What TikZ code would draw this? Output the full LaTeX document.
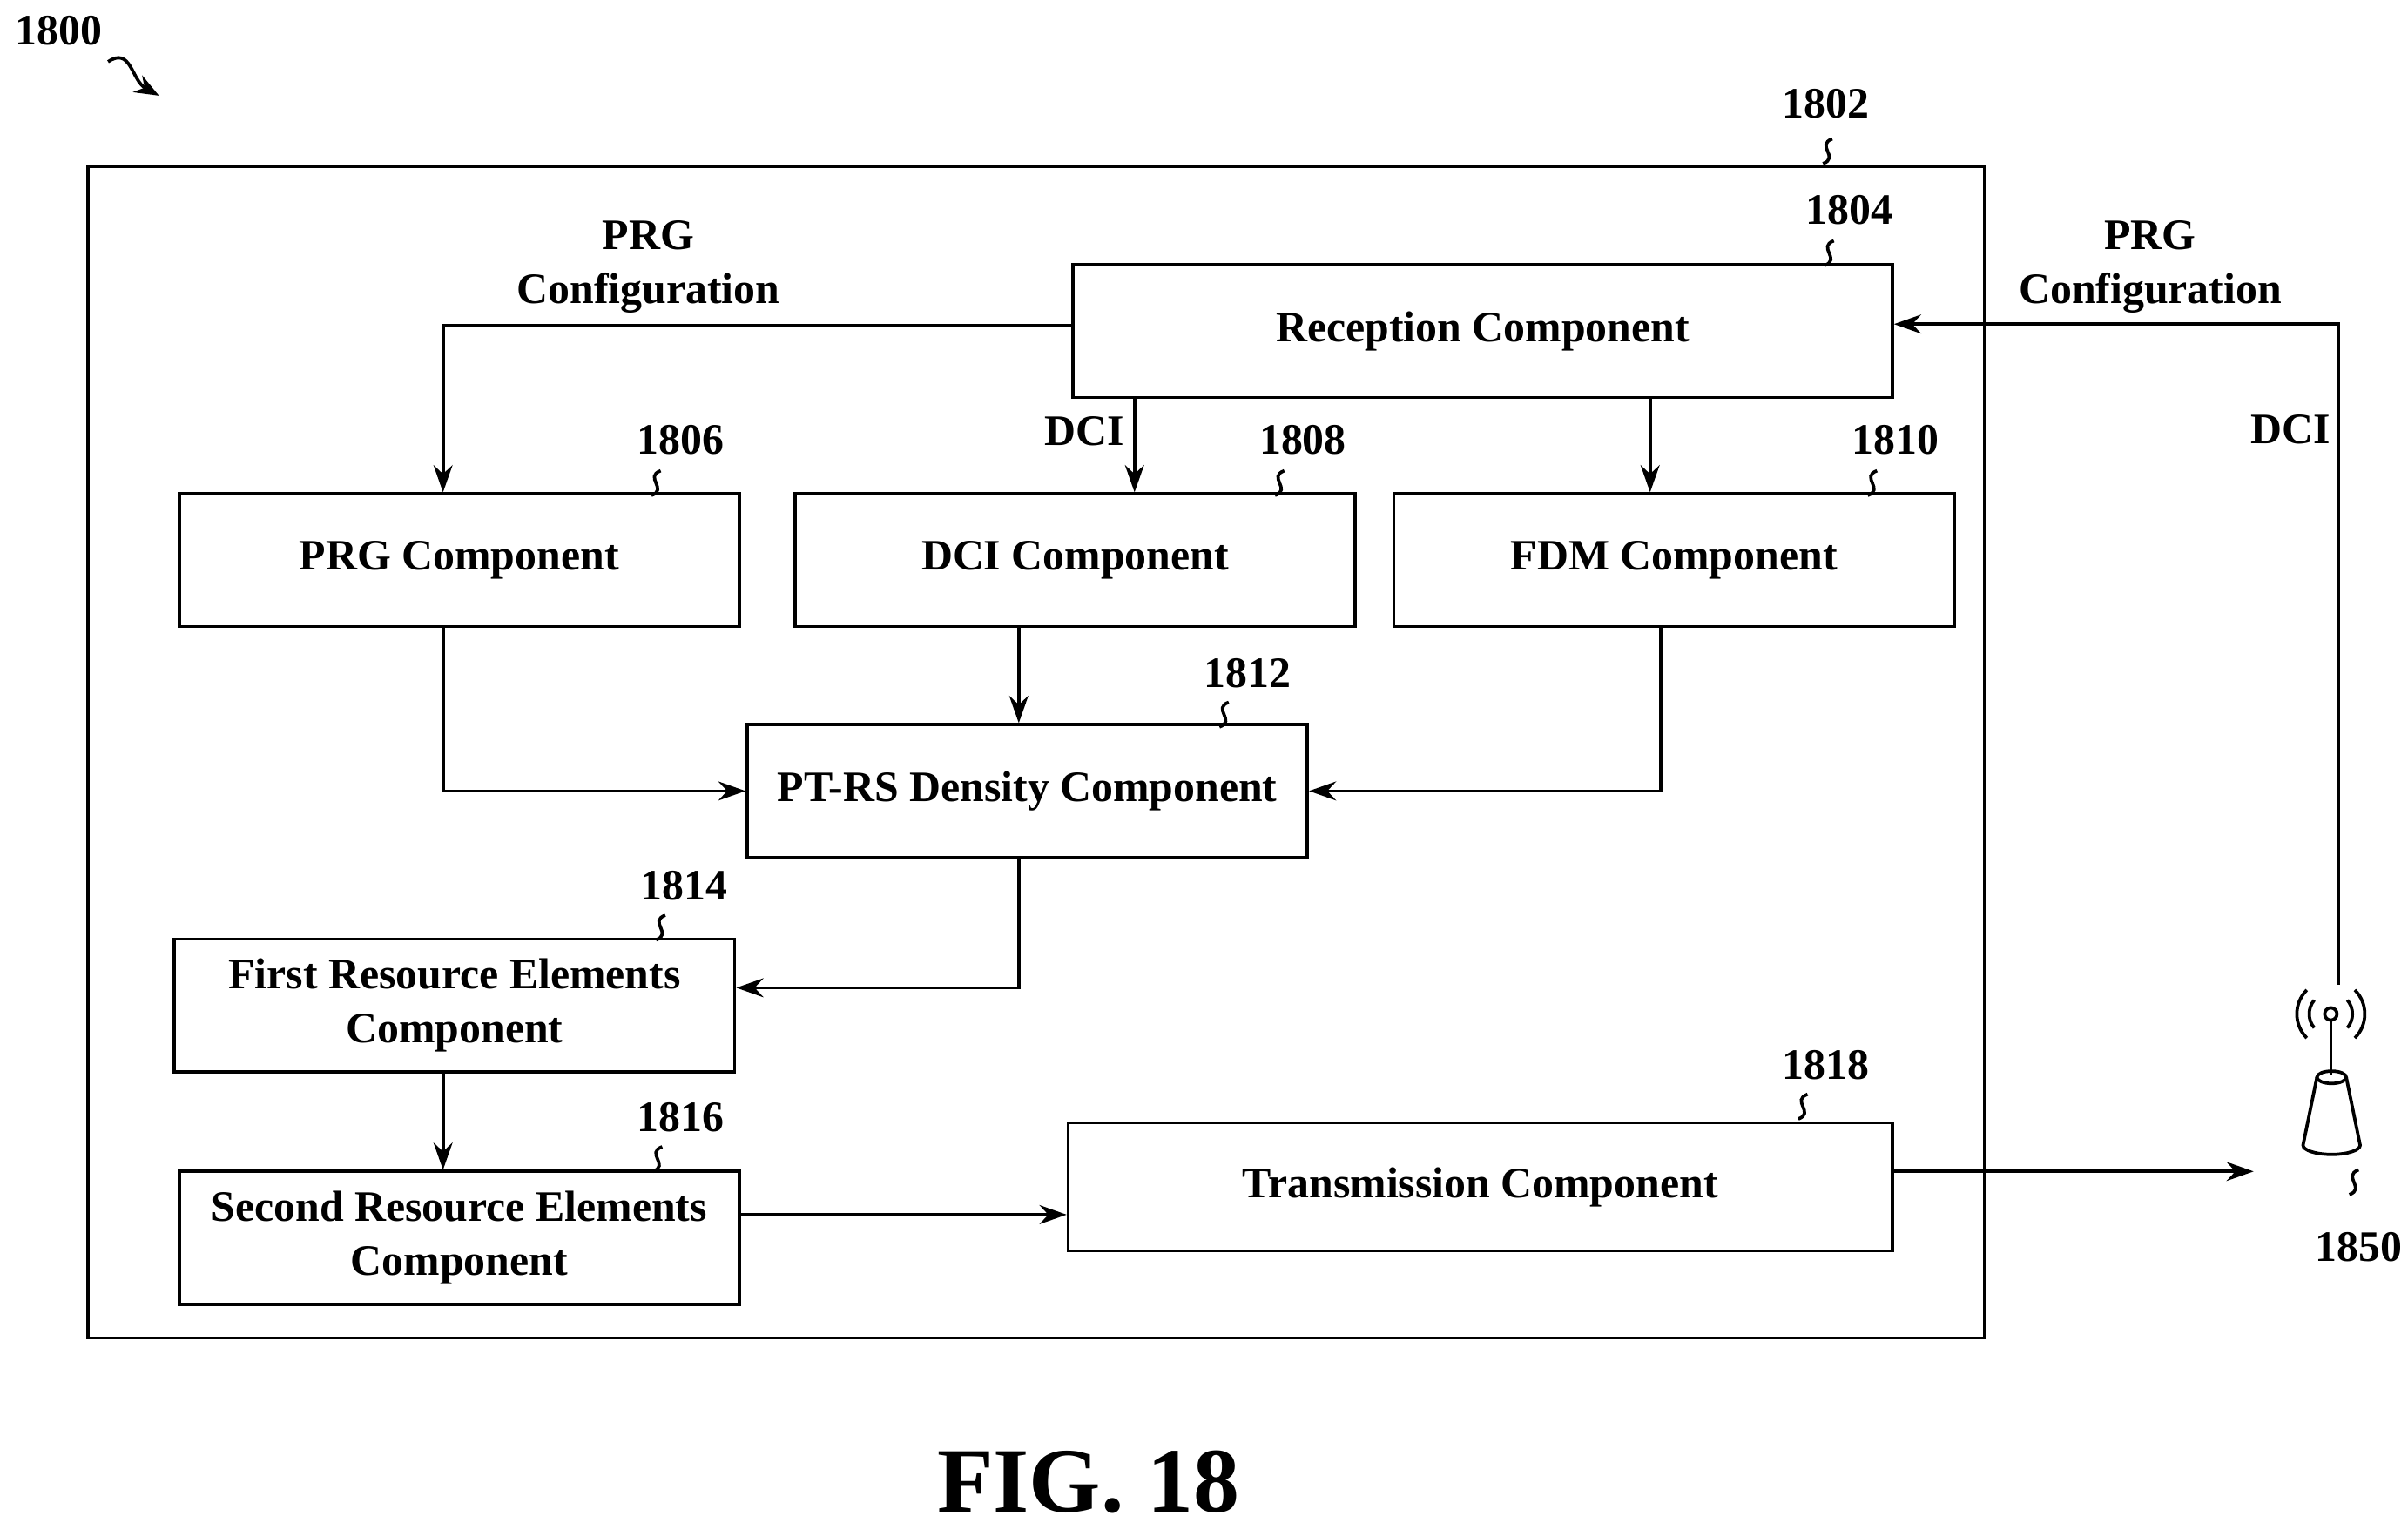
\documentclass[tikz,border=0pt]{standalone}
\usepackage{fontspec}
\setmainfont{Liberation Serif}
\usetikzlibrary{positioning,arrows.meta}
\tikzset{
  comp/.style={draw, line width=1.2pt, minimum width=7.26cm, minimum height=1.72cm, align=center, font=\fontsize{16}{20}\selectfont\bfseries},
  lbl/.style={align=center, font=\fontsize{16}{20}\selectfont\bfseries},
  ref/.style={font=\fontsize{16}{20}\selectfont\bfseries},
  flow/.style={-{Stealth[length=10pt,width=7pt]}, line width=1.2pt},
  squig/.style={line width=1.2pt}
}
\newcommand{\tagsq}[1]{\draw[squig] (#1) .. controls +(-11,4) and +(11,-4) .. ++(-6,16);}
\begin{document}
\begin{tikzpicture}[x=0.02cm, y=-0.02cm]
  \useasboundingbox (0,0) rectangle (1560,995);
  % outer frame
  \node[draw, line width=1.2pt, minimum width=24.58cm, minimum height=15.18cm] (frame) at (671.5,487.5) {};

  % components
  \node[comp, minimum width=10.62cm] (rx) at (960.5,214.5) {Reception Component};
  \node[comp] (prg) at (297.5,363) {PRG Component};
  \node[comp] (dci) at (696.5,363) {DCI Component};
  \node[comp] (fdm) at (1084.5,363) {FDM Component};
  \node[comp] (ptrs) at (665.5,512.5) {PT-RS Density Component};
  \node[comp] (fre) at (294.5,651.5) {First Resource Elements\\Component};
  \node[comp] (sre) at (297.5,802) {Second Resource Elements\\Component};
  \node[comp, minimum width=10.68cm, minimum height=1.66cm] (tx) at (959,769) {Transmission Component};

  % reference numbers
  \node[ref] (n1800) at (38,20) {1800};
  \node[ref] (n1802) at (1183,67) {1802};
  \node[ref] (n1804) at (1198,136) {1804};
  \node[ref] (n1806) at (441,285) {1806};
  \node[ref] (n1808) at (844,285) {1808};
  \node[ref] (n1810) at (1228,285) {1810};
  \node[ref] (n1812) at (808,436) {1812};
  \node[ref] (n1814) at (443,574) {1814};
  \node[ref] (n1816) at (441,724) {1816};
  \node[ref] (n1818) at (1183,690) {1818};
  \node[ref] (n1850) at (1528,808) {1850};

  \draw[squig, -{Stealth[length=9pt,width=7pt]}] (70,40) .. controls (85,30) and (85,52) .. (103,62);
  \tagsq{1187,90}
  \tagsq{1188,156}
  \tagsq{428,305}
  \tagsq{832,305}
  \tagsq{1216,305}
  \tagsq{796,455}
  \tagsq{431,593}
  \tagsq{429,743}
  \tagsq{1171,709}
  \tagsq{1528,758}

  % antenna
  \coordinate (ant) at (1515,638);
  \draw[line width=1.2pt] (1510,657) circle (4);
  \draw[line width=1.2pt] (1510,661) -- (1510,697);
  \draw[line width=1.2pt] ([shift={(140:14)}]1510,657) arc[start angle=140, end angle=220, radius=14];
  \draw[line width=1.2pt] ([shift={(135:22)}]1510,657) arc[start angle=135, end angle=225, radius=22];
  \draw[line width=1.2pt] ([shift={(-40:14)}]1510,657) arc[start angle=-40, end angle=40, radius=14];
  \draw[line width=1.2pt] ([shift={(-45:22)}]1510,657) arc[start angle=-45, end angle=45, radius=22];
  \draw[line width=1.2pt] (1510.5,698) ellipse [x radius=9.5, y radius=4];
  \draw[line width=1.2pt] (1501,698) -- (1492,742) arc[start angle=180, end angle=0, x radius=18.5, y radius=6] -- (1520,698);

  % connectors
  \draw[flow] (rx.west |- 0,211) -| (prg.north -| 287,0);
  \draw[flow] (rx.south -| 735,0) -- (dci.north -| 735,0) node[pos=0.35, left, lbl] {DCI};
  \draw[flow] (rx.south -| 1069,0) -- (fdm.north -| 1069,0);
  \node[lbl] (lprg) at (420,173) {PRG\\Configuration};
  \draw[flow] (prg.south -| 287,0) |- (ptrs.west);
  \draw[flow] (dci.south -| 660,0) -- (ptrs.north -| 660,0);
  \draw[flow] (fdm.south -| 1076,0) |- (ptrs.east);
  \draw[flow] (ptrs.south -| 660,0) |- (fre.east |- 0,640);
  \draw[flow] (fre.south -| 287,0) -- (sre.north -| 287,0);
  \draw[flow] (sre.east |- 0,787) -- (tx.west |- 0,787);
  \coordinate (txend) at (1460,759);
  \draw[flow] (tx.east |- 0,759) -- (txend);
  \draw[flow] (ant) |- (rx.east |- 0,210);
  \node[lbl] (lprg2) at (1393,173) {PRG\\Configuration};
  \node[lbl, anchor=east] (ldci2) at (1516,278) {DCI};

  \node[font=\fontsize{34}{40}\selectfont\bfseries] (fig) at (705,960) {FIG. 18};
\end{tikzpicture}
\end{document}
